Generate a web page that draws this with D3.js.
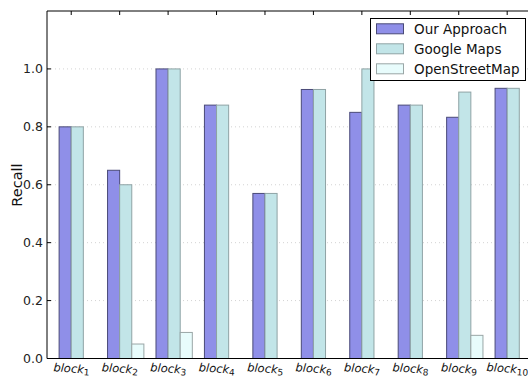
<!DOCTYPE html>
<html>
<head>
<meta charset="utf-8">
<script src="https://cdn.jsdelivr.net/npm/d3@7"></script>
<style>
  html, body { margin: 0; padding: 0; background: #fff; }
  svg { display: block; font-family: "DejaVu Sans", sans-serif; }
</style>
</head>
<body>
<svg id="chart" width="528" height="378"></svg>
<script>
// Recall per block for each map source
const categories = ["1", "2", "3", "4", "5", "6", "7", "8", "9", "10"];
const ourApproach = [0.8, 0.65, 1.0, 0.875, 0.57, 0.929, 0.85, 0.875, 0.833, 0.933];
const googleMaps  = [0.8, 0.6, 1.0, 0.875, 0.57, 0.929, 1.0, 0.875, 0.92, 0.933];
const openStreetMap = [0, 0.05, 0.09, 0, 0, 0, 0, 0, 0.08, 0];
const seriesNames = ["Our Approach", "Google Maps", "OpenStreetMap"];
const yTicks = [0.0, 0.2, 0.4, 0.6, 0.8, 1.0];

const series = [ourApproach, googleMaps, openStreetMap];
const fills = ["#8f8fe8", "#c2e5e8", "#e8fcfc"];
const strokes = ["#4a4a78", "#8fa3a5", "#9aa6a6"];

const svg = d3.select("#chart");
const m = { left: 47, top: 11, bottom: 358.5 };
const barW = 0.25;

const x = d3.scaleLinear().domain([-0.25, 10]).range([m.left, m.left + 10.25 * 48.44]);
const y = d3.scaleLinear().domain([0, 1.2]).range([m.bottom, m.top]);

// dotted horizontal grid
svg.append("g").selectAll("line").data(yTicks.filter(d => d > 0)).join("line")
  .attr("x1", m.left).attr("x2", 528)
  .attr("y1", d => y(d)).attr("y2", d => y(d))
  .attr("stroke", "#c8c8c8").attr("stroke-width", 0.8).attr("stroke-dasharray", "1,3");

// bars (zero-height bars are skipped)
series.forEach((vals, k) => {
  const pts = vals.map((v, i) => ({ v, i })).filter(p => p.v > 0);
  svg.append("g").selectAll("rect").data(pts).join("rect")
    .attr("x", p => x(p.i + k * barW))
    .attr("width", p => x(p.i + (k + 1) * barW) - x(p.i + k * barW))
    .attr("y", p => y(p.v))
    .attr("height", p => y(0) - y(p.v))
    .attr("fill", fills[k])
    .attr("stroke", strokes[k])
    .attr("stroke-width", 1);
});

// spines (right side runs past the canvas)
svg.append("path")
  .attr("d", `M${x.range()[1]},${m.top}H${m.left}V${m.bottom}H${x.range()[1]}`)
  .attr("fill", "none").attr("stroke", "#000").attr("stroke-width", 1);

// left axis ticks (inward) and labels
const yAxis = svg.append("g");
yAxis.selectAll("line").data(yTicks).join("line")
  .attr("x1", m.left).attr("x2", m.left + 4)
  .attr("y1", d => y(d)).attr("y2", d => y(d))
  .attr("stroke", "#000");
yAxis.selectAll("text").data(yTicks).join("text")
  .attr("x", m.left - 4).attr("y", d => y(d))
  .attr("dy", "0.35em").attr("text-anchor", "end")
  .attr("font-size", 12.5).attr("fill", "#222")
  .text(d => d3.format(".1f")(d));

// top ticks at each block
svg.append("g").selectAll("line").data(categories).join("line")
  .attr("x1", (d, i) => x(i + barW)).attr("x2", (d, i) => x(i + barW))
  .attr("y1", m.top).attr("y2", m.top + 4)
  .attr("stroke", "#000");

// block labels with subscript index
const xl = svg.append("g").selectAll("text").data(categories).join("text")
  .attr("transform", (d, i) => `translate(${x(i + barW)},${m.bottom + 14}) rotate(4)`)
  .attr("text-anchor", "middle")
  .attr("font-size", 11.5).attr("font-style", "italic").attr("fill", "#111");
xl.append("tspan").text("block");
xl.append("tspan").attr("font-size", 9).attr("dy", 2).attr("font-style", "normal").text(d => d);

// y label
svg.append("text")
  .attr("transform", "translate(21.5,185) rotate(-90)")
  .attr("text-anchor", "middle").attr("font-size", 14.5).attr("fill", "#111")
  .text("Recall");

// legend
const lg = svg.append("g");
lg.append("rect").attr("x", 370.5).attr("y", 18.5).attr("width", 155).attr("height", 62)
  .attr("fill", "#fff").attr("stroke", "#000").attr("stroke-width", 1);
seriesNames.forEach((name, k) => {
  const cy = 28.8 + k * 20;
  lg.append("rect").attr("x", 376.5).attr("y", cy - 5).attr("width", 27).attr("height", 10)
    .attr("fill", fills[k]).attr("stroke", strokes[k]);
  lg.append("text").attr("x", 414).attr("y", cy).attr("dy", "0.35em")
    .attr("font-size", 13.5).attr("fill", "#111").text(name);
});
</script>
</body>
</html>
